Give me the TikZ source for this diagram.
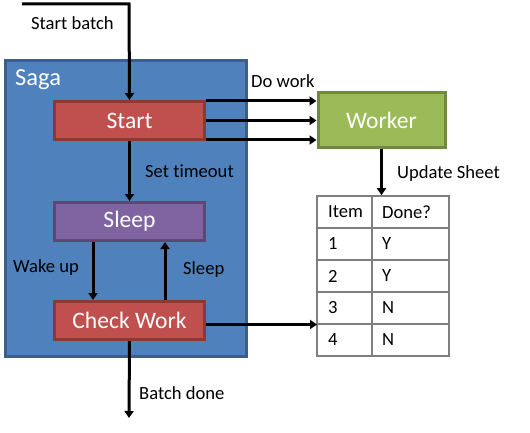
\documentclass[tikz,border=0pt]{standalone}
\usepackage{fontspec}
\setmainfont{Carlito}[Ligatures={NoCommon}]
\usetikzlibrary{arrows.meta}
\definecolor{sagafill}{HTML}{4F81BD}
\definecolor{sagaline}{HTML}{3A5F8B}
\definecolor{redfill}{HTML}{C0504D}
\definecolor{redline}{HTML}{8C3836}
\definecolor{purfill}{HTML}{8064A2}
\definecolor{purline}{HTML}{5C4776}
\definecolor{grnfill}{HTML}{9BBB59}
\definecolor{grnline}{HTML}{71893F}
\definecolor{tblline}{HTML}{7F7F7F}
\tikzset{
  box/.style={draw, line width=3pt, minimum width=150pt, minimum height=38pt, inner sep=0pt,
    text=white, font=\fontsize{23.6}{26}\selectfont},
  lbl/.style={font=\fontsize{18.6}{21}\selectfont, inner sep=0pt, anchor=west},
  conn/.style={line width=3pt, -{Triangle[length=7pt,width=9pt]}},
  cell/.style={font=\fontsize{18.6}{21}\selectfont, inner sep=0pt, anchor=west},
}
\begin{document}
\begin{tikzpicture}[x=1pt,y=-1pt]
\useasboundingbox[fill=white] (0,0) rectangle (530,433);
% Saga container
\node[draw=sagaline, fill=sagafill, line width=3pt, minimum width=241pt, minimum height=296pt, inner sep=0pt] (saga) at (126,208.5) {};
\node[text=white, font=\fontsize{24.5}{27}\selectfont, inner sep=0pt, anchor=west] (sagat) at (15,80) {Saga};
% boxes
\node[box, draw=redline, fill=redfill] (start) at (129.5,120.5) {Start};
\node[box, draw=purline, fill=purfill] (sleep) at (129.5,221.5) {Sleep};
\node[box, draw=redline, fill=redfill] (check) at (129.5,320.5) {Check Work};
\node[box, draw=grnline, fill=grnfill, minimum width=127pt, minimum height=55pt] (worker) at (381.5,120.5) {Worker};
% table
\node[draw=tblline, line width=1.6pt, minimum width=132pt, minimum height=160pt, inner sep=0pt] (tbl) at (383,276) {};
\draw[tblline, line width=1.6pt] (372,196) -- (372,356);
\foreach \y in {228,260,292,324} \draw[tblline, line width=1.6pt] (317,\y) -- (449,\y);
\node[cell] (h1) at (328,212) {Item};
\node[cell] (h2) at (382,212) {Done?};
\node[cell] (a1) at (328,244) {1};
\node[cell] (b1) at (382,244) {Y};
\node[cell] (a2) at (328,276) {2};
\node[cell] (b2) at (382,276) {Y};
\node[cell] (a3) at (328,308) {3};
\node[cell] (b3) at (382,308) {N};
\node[cell] (a4) at (328,340) {4};
\node[cell] (b4) at (382,340) {N};
% coordinates
\coordinate (sb) at (22,4);
\coordinate (bd) at (129,418);
\coordinate (tin) at (317,324.5);
\coordinate (s1) at ([yshift=19.5pt]start.east);
\coordinate (s3) at ([yshift=-19.5pt]start.east);
% connectors
\draw[conn] (sb) -- (129,4) -- (start.north);
\draw[conn] (start.south) -- (sleep.north);
\draw[conn] ([xshift=-36.5pt]sleep.south) -- ([xshift=-36.5pt]check.north);
\draw[conn] ([xshift=35.5pt]check.north) -- ([xshift=35.5pt]sleep.south);
\draw[conn] (check.south) -- (bd);
\draw[conn] (check.east |- tin) -- (tin);
\draw[conn] (s1) -- (worker.west |- s1);
\draw[conn] (start.east) -- (worker.west |- start.east);
\draw[conn] (s3) -- (worker.west |- s3);
\draw[conn] (worker.south) -- (worker.south |- tbl.north);
% labels
\node[lbl] (l1) at (31,23) {Start batch};
\node[lbl] (l2) at (251,81) {Do work};
\node[lbl] (l3) at (145,171) {Set timeout};
\node[lbl] (l4) at (397,174) {Update Sheet};
\node[lbl] (l5) at (13,268) {Wake up};
\node[lbl] (l6) at (183,270) {Sleep};
\node[lbl] (l7) at (139,393) {Batch done};
\end{tikzpicture}
\end{document}
